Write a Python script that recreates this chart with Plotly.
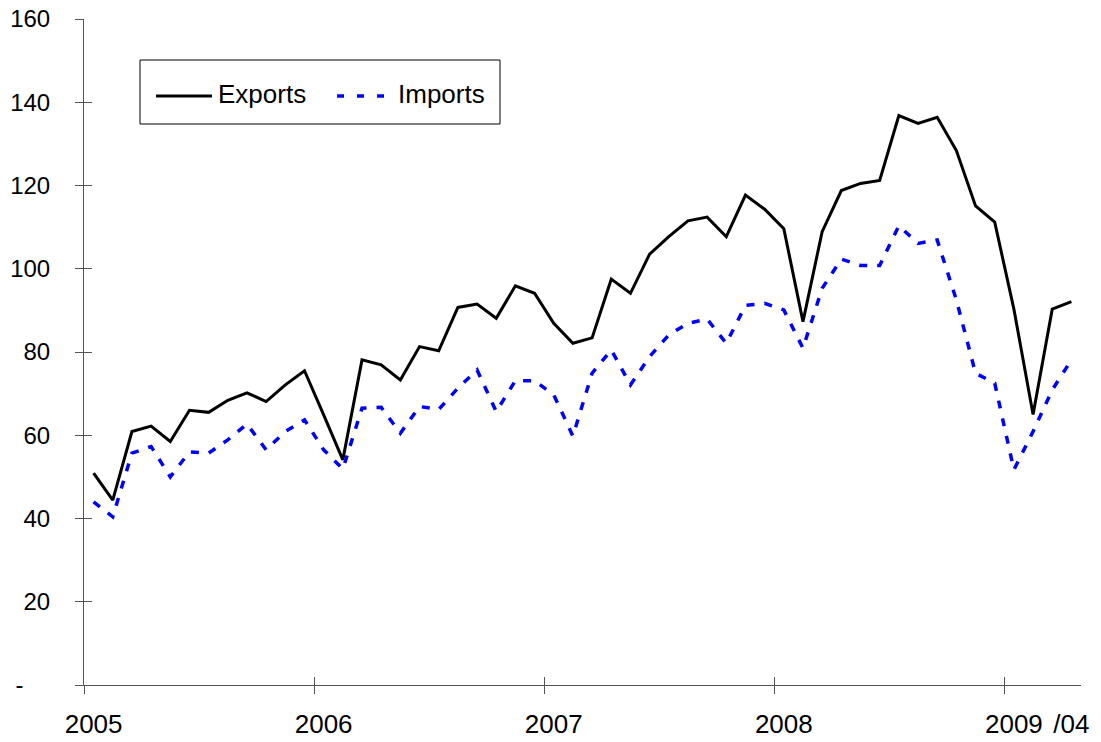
import plotly.graph_objects as go

# monthly, 2005-01 .. 2009-04
exports = [50.9, 44.4, 60.9, 62.2, 58.5, 66.0, 65.5, 68.4, 70.2, 68.1, 72.1, 75.5,
           64.9, 54.1, 78.1, 76.9, 73.3, 81.3, 80.3, 90.7, 91.5, 88.1, 95.9, 94.1,
           86.9, 82.1, 83.4, 97.5, 94.1, 103.5, 107.7, 111.5, 112.4, 107.7, 117.7, 114.3,
           109.6, 87.3, 108.9, 118.8, 120.5, 121.2, 136.8, 134.9, 136.4, 128.4, 115.1, 111.2,
           90.3, 65.0, 90.3, 92.1]
imports = [44.0, 40.4, 55.7, 57.3, 50.0, 56.0, 55.7, 58.9, 62.7, 56.5, 60.9, 63.7,
           56.5, 51.9, 66.5, 66.7, 60.5, 66.9, 66.2, 71.3, 75.7, 65.7, 73.1, 73.1,
           69.7, 59.8, 74.9, 80.5, 72.1, 78.9, 84.1, 86.9, 87.9, 82.1, 91.2, 91.7,
           90.1, 80.9, 95.3, 102.3, 100.8, 100.8, 110.3, 106.1, 106.9, 92.5, 74.9, 72.5,
           51.7, 60.9, 70.9, 78.1]
series_names = ["Exports", "Imports"]

month_idx = list(range(len(exports)))
label_idx = [0, 12, 24, 36, 48, 51]
label_txt = ["2005", "2006", "2007", "2008", "2009", "/04"]
year_bounds = [-0.5, 11.5, 23.5, 35.5, 47.5]
y_ticks = [0, 20, 40, 60, 80, 100, 120, 140, 160]
y_text = ["-\u00a0\u00a0\u00a0\u00a0"] + [str(v) for v in y_ticks[1:]]

# page body adds an 8px margin, so the figure is shrunk and shifted to fit
OFF = 8
W, H = 1101 - OFF, 742 - OFF
L, R, T, B = 84 - OFF, 20, 19 - OFF, 57
FONT = "Liberation Sans, Arial, sans-serif"
AXC = "#555555"


def px(x):
    return (x - OFF - L) / (W - L - R)


def py(y):
    return 1 - (y - OFF - T) / (H - T - B)


fig = go.Figure()
fig.add_trace(go.Scatter(x=month_idx, y=exports, mode="lines", name=series_names[0],
                         line=dict(color="black", width=3), showlegend=False))
fig.add_trace(go.Scatter(x=month_idx, y=imports, mode="lines", name=series_names[1],
                         line=dict(color="#0000ff", width=3.5, dash="8px,10px"),
                         showlegend=False))
# invisible traces so the overlay axes (crossing tick marks) get drawn
for xa, ya in [("x2", "y"), ("x3", "y"), ("x", "y2")]:
    fig.add_trace(go.Scatter(x=[None], y=[None], xaxis=xa, yaxis=ya,
                             showlegend=False, hoverinfo="skip"))

xr = [-0.5, len(exports) - 0.5]
fig.update_layout(
    width=W, height=H, margin=dict(l=L, r=R, t=T, b=B, autoexpand=False),
    paper_bgcolor="white", plot_bgcolor="white",
    font=dict(family=FONT, color="black"),
    xaxis=dict(range=xr, tickvals=label_idx, ticktext=label_txt, ticks="",
               showline=True, linecolor=AXC, linewidth=1, showgrid=False,
               zeroline=False, tickfont=dict(size=26), ticklabelstandoff=16,
               automargin=False, ticklabeloverflow="allow"),
    xaxis2=dict(range=xr, overlaying="x", anchor="y", tickvals=year_bounds,
                ticks="outside", ticklen=8, tickcolor=AXC, showticklabels=False,
                showline=False, showgrid=False, zeroline=False, automargin=False),
    xaxis3=dict(range=xr, overlaying="x", anchor="y", tickvals=year_bounds,
                ticks="inside", ticklen=8, tickcolor=AXC, showticklabels=False,
                showline=False, showgrid=False, zeroline=False, automargin=False),
    yaxis=dict(range=[0, 160], tickvals=y_ticks, ticktext=y_text,
               ticks="outside", ticklen=8, tickcolor=AXC, showline=True,
               linecolor=AXC, linewidth=1, showgrid=False, zeroline=False,
               tickfont=dict(size=24), ticklabelstandoff=20, automargin=False,
               ticklabeloverflow="allow"),
    yaxis2=dict(range=[0, 160], overlaying="y", anchor="x", tickvals=y_ticks,
                ticks="inside", ticklen=8, tickcolor=AXC, showticklabels=False,
                showline=False, showgrid=False, zeroline=False, automargin=False),
)

# legend box drawn by hand to match the original layout
fig.add_shape(type="rect", xref="paper", yref="paper",
              x0=px(140), x1=px(500), y0=py(124), y1=py(60),
              line=dict(color="black", width=1), fillcolor="white")
fig.add_shape(type="line", xref="paper", yref="paper",
              x0=px(156), x1=px(212), y0=py(96), y1=py(96),
              line=dict(color="black", width=3))
fig.add_shape(type="line", xref="paper", yref="paper",
              x0=px(337), x1=px(385), y0=py(96), y1=py(96),
              line=dict(color="#0000ff", width=3.5, dash="7px,13px"))
for name, xl in zip(series_names, [216, 396]):
    fig.add_annotation(xref="paper", yref="paper", x=px(xl), y=py(94),
                       text=name, showarrow=False, xanchor="left",
                       yanchor="middle", font=dict(size=26, family=FONT))

fig.write_html("out.html")
